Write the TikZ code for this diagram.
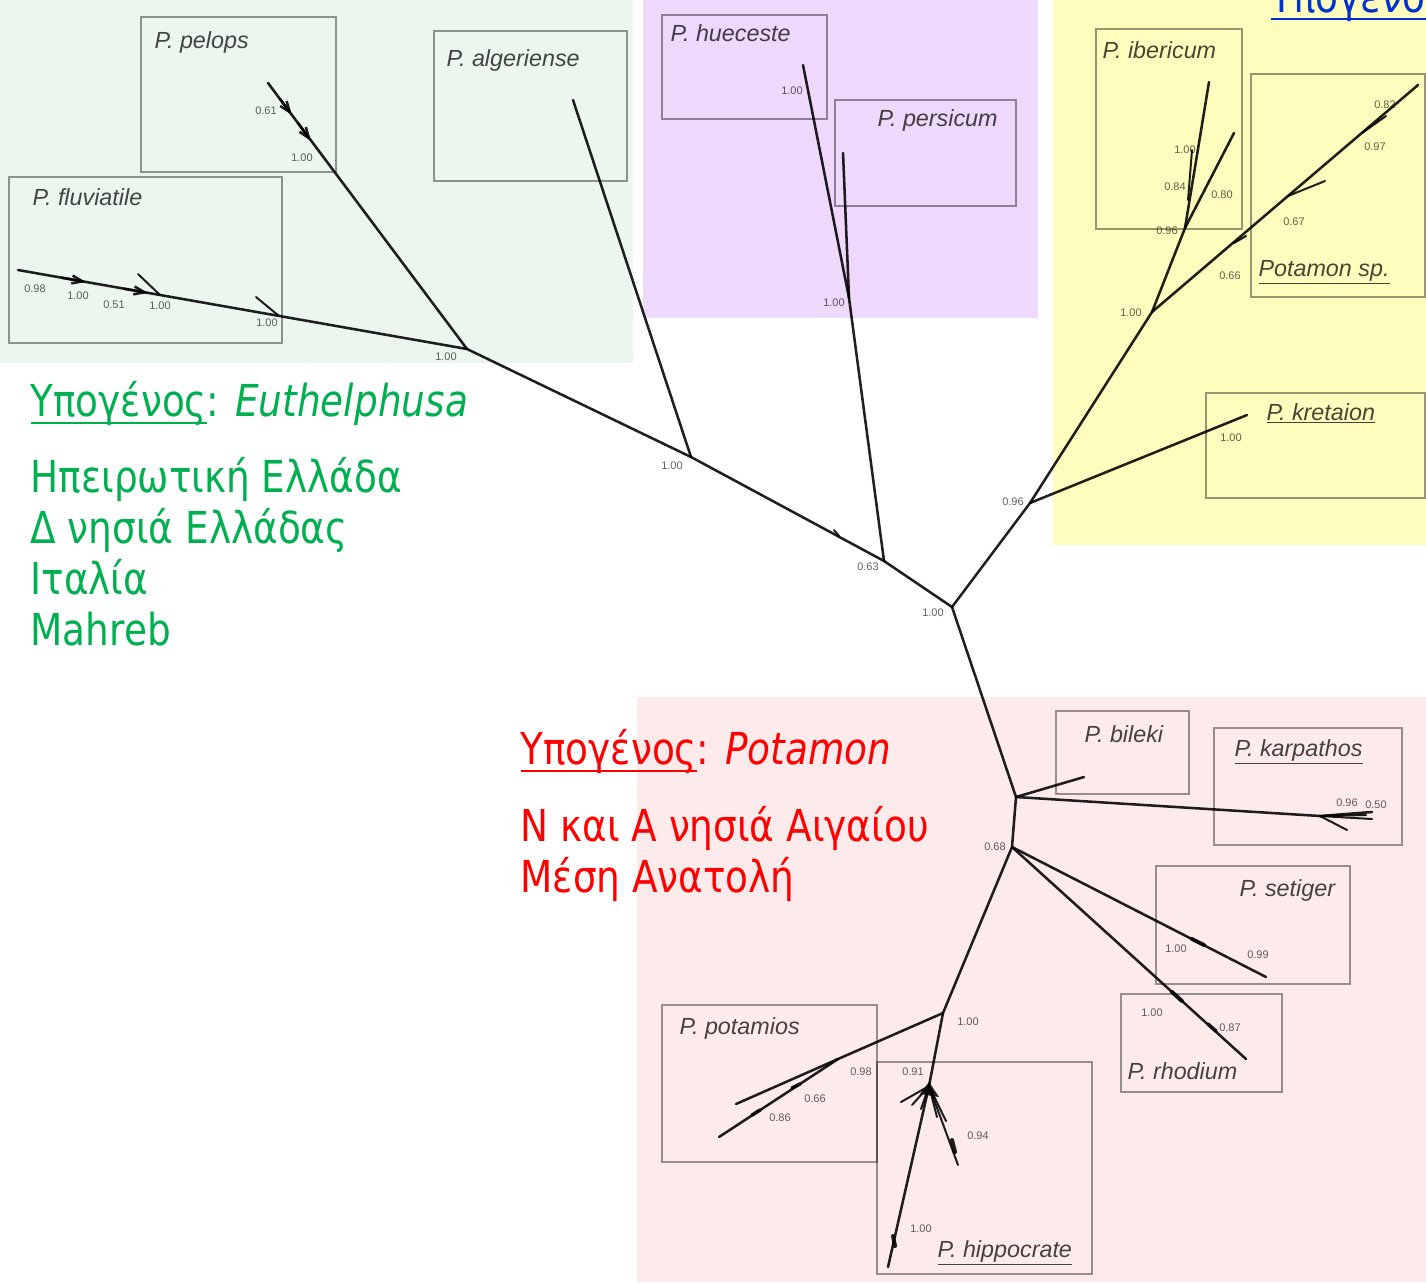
\documentclass[tikz,border=0pt]{standalone}
\usepackage{fontspec}
\setmainfont{Liberation Sans}
\newfontfamily\greekfont[FakeStretch=0.85]{DejaVu Sans}
\usetikzlibrary{arrows.meta}

\definecolor{greenbg}{RGB}{234,246,238}
\definecolor{purplebg}{RGB}{238,216,252}
\definecolor{yellowbg}{RGB}{255,253,190}
\definecolor{pinkbg}{RGB}{253,235,235}
\definecolor{greentxt}{RGB}{0,176,80}
\definecolor{redtxt}{RGB}{255,0,0}
\definecolor{bluetxt}{RGB}{0,51,204}

% thick underline for the subgenus headings
\newcommand{\headline}[1]{{\setbox0\hbox{#1}\rlap{\rule[-0.18em]{\wd0}{0.055em}}\box0}}

\tikzset{every picture/.style={line width=0.75pt}}
\tikzset{
  branch/.style={draw=black, draw opacity=0.88, line width=1.9pt, line cap=round, line join=round},
  barb/.style={branch, -{Straight Barb[length=8pt,width=6pt]}},
  stub/.style={branch, line width=1.5pt},
  spbox/.style={draw=black, draw opacity=0.4, line width=1.1pt},
  spname/.style={anchor=west, inner sep=0.75pt, text=black, text opacity=0.72, font=\fontsize{17.5}{20}\selectfont\itshape},
  supp/.style={inner sep=0.5pt, text=black, text opacity=0.62, font=\fontsize{8.25}{9}\selectfont},
  bigtxt/.style={anchor=base west, inner sep=0pt, font=\greekfont\fontsize{33}{38}\selectfont}
}

\begin{document}
\begin{tikzpicture}[x=0.75pt,y=0.75pt,yscale=-1,xscale=1]
	\useasboundingbox (0,0) rectangle (1426,1282);
	\clip (0,0) rectangle (1426,1282);

	%Shape: Rectangle (coloured areas)
	\fill[greenbg] (0,0) rectangle (633,363);
	\fill[purplebg] (643,0) rectangle (1038,318);
	\fill[yellowbg] (1053,0) rectangle (1426,545);
	\fill[pinkbg] (637,697) rectangle (1426,1282);

	%Shape: Rectangle (species boxes)
	\draw[spbox] (141,17) rectangle (336,172);
	\draw[spbox] (434,31) rectangle (627,181);
	\draw[spbox] (9,177) rectangle (282,343);
	\draw[spbox] (662,15) rectangle (827,119);
	\draw[spbox] (835,100) rectangle (1016,206);
	\draw[spbox] (1096,29) rectangle (1242,229);
	\draw[spbox] (1251,74) rectangle (1425,297);
	\draw[spbox] (1206,393) rectangle (1425,498);
	\draw[spbox] (1056,711) rectangle (1189,794);
	\draw[spbox] (1214,728) rectangle (1402,845);
	\draw[spbox] (1156,866) rectangle (1350,984);
	\draw[spbox] (1121,994) rectangle (1282,1092);
	\draw[spbox] (662,1005) rectangle (877,1162);
	\draw[spbox] (877,1062) rectangle (1092,1274);

	% Tree nodes and tips
	\coordinate (root) at (952,607);
	\coordinate (n63) at (884,561);
	\coordinate (n100b) at (691,457);
	\coordinate (n100a) at (467,349);
	\coordinate (tPel) at (268,83);
	\coordinate (tFlu) at (18,270);
	\coordinate (tAlg) at (573,100);
	\coordinate (nHue) at (849,298);
	\coordinate (tHue) at (803,65);
	\coordinate (tPer) at (843,153);
	\coordinate (n96) at (1030,503);
	\coordinate (tKre) at (1247,415);
	\coordinate (n100y) at (1152,312);
	\coordinate (nIbe) at (1185,228);
	\coordinate (tIbeA) at (1209,82);
	\coordinate (tIbeB) at (1234,133);
	\coordinate (tPsp) at (1418,85);
	\coordinate (nBil) at (1016,797);
	\coordinate (n68) at (1012,847);
	\coordinate (tBil) at (1084,777);
	\coordinate (nKar) at (1320,816);
	\coordinate (tKar) at (1372,812);
	\coordinate (tSet) at (1266,977);
	\coordinate (tRho) at (1246,1059);
	\coordinate (n100p) at (943,1013);
	\coordinate (nPot) at (838,1059);
	\coordinate (tPotA) at (736,1104);
	\coordinate (tPotB) at (719,1137);
	\coordinate (nHip) at (929,1086);
	\coordinate (tHip) at (888,1267);

	%Straight Lines (backbone)
	\draw[branch] (tFlu) -- (n100a) -- (n100b) -- (n63) -- (root) -- (nBil) -- (n68) -- (n100p) -- (nHip) -- (tHip);
	%Straight Lines (Euthelphusa)
	\draw[branch] (tPel) -- (n100a);
	\draw[branch] (tAlg) -- (n100b);
	\draw[branch] (tHue) -- (nHue) -- (n63);
	\draw[branch] (tPer) -- (nHue);
	\draw[barb] (280,99) -- (292,115);
	\draw[barb] (298,123) -- (311,141);
	\draw[barb] (62,277.7) -- (86,282);
	\draw[barb] (124,288.7) -- (148,292.9);
	\draw[stub] (138,274) -- (160,295);
	\draw[stub] (256,297) -- (279,316);
	\draw[stub] (834,530) -- (839,536);
	%Straight Lines (yellow group)
	\draw[branch] (root) -- (n96) -- (n100y) -- (nIbe) -- (tIbeA);
	\draw[branch] (nIbe) -- (tIbeB);
	\draw[stub] (1192,150) -- (1188,200);
	\draw[branch] (n100y) -- (tPsp);
	\draw[stub] (1288,196) -- (1325,181);
	\draw[stub] (1362,133) -- (1386,116);
	\draw[stub] (1234,243) -- (1246,236);
	\draw[branch] (n96) -- (tKre);
	%Straight Lines (Potamon)
	\draw[branch] (nBil) -- (tBil);
	\draw[branch] (nBil) -- (nKar) -- (tKar);
	\draw[stub] (nKar) -- (1372,819);
	\draw[stub] (nKar) -- (1366,815);
	\draw[stub] (nKar) -- (1347,830);
	\draw[branch] (n68) -- (tSet);
	\draw[stub, line width=3pt] (1192,939) -- (1204,945);
	\draw[branch] (n68) -- (tRho);
	\draw[stub, line width=3pt] (1172,992) -- (1182,1001);
	\draw[stub, line width=2.6pt] (1208,1024) -- (1216,1031);
	\draw[branch] (n100p) -- (nPot) -- (tPotA);
	\draw[branch] (nPot) -- (tPotB);
	\draw[stub, line width=2.6pt] (792,1088) -- (800,1084);
	\draw[stub, line width=2.6pt] (752,1115) -- (760,1110);
	\foreach \fx/\fy in {901/1102, 912/1105, 921/1109, 937/1117, 946/1121, 958/1165}
		\draw[stub] (nHip) -- (\fx,\fy);
	\fill[black, opacity=0.85] (920,1094) -- (929,1082) -- (939,1097) -- cycle;
	\draw[stub, line width=3pt] (952,1140) -- (955,1152);
	\draw[stub, line width=3pt] (893,1236) -- (895,1246);

	% Text Node (support values)
	\node[supp] (s100a) at (446,357) {1.00};
	\node[supp] (s100b) at (672,466) {1.00};
	\node[supp] (s63) at (868,567) {0.63};
	\node[supp] (sRoot) at (933,613) {1.00};
	\node[supp] (sPelA) at (266,111) {0.61};
	\node[supp] (sPelB) at (302,158) {1.00};
	\node[supp] (sFluA) at (35,289) {0.98};
	\node[supp] (sFluB) at (78,296) {1.00};
	\node[supp] (sFluC) at (114,305) {0.51};
	\node[supp] (sFluD) at (160,306) {1.00};
	\node[supp] (sFluE) at (267,323) {1.00};
	\node[supp] (sHue) at (792,91) {1.00};
	\node[supp] (sHuePer) at (834,303) {1.00};
	\node[supp] (s96) at (1013,502) {0.96};
	\node[supp] (sKre) at (1231,438) {1.00};
	\node[supp] (s100y) at (1131,313) {1.00};
	\node[supp] (sIbe) at (1167,231) {0.96};
	\node[supp] (sIbeA) at (1185,150) {1.00};
	\node[supp] (sIbeB) at (1175,187) {0.84};
	\node[supp] (sIbeC) at (1222,195) {0.80};
	\node[supp] (sPspA) at (1230,276) {0.66};
	\node[supp] (sPspB) at (1294,222) {0.67};
	\node[supp] (sPspC) at (1375,147) {0.97};
	\node[supp] (sPspD) at (1385,105) {0.82};
	\node[supp] (s68) at (995,847) {0.68};
	\node[supp] (sKarA) at (1347,803) {0.96};
	\node[supp] (sKarB) at (1376,805) {0.50};
	\node[supp] (sSetA) at (1176,949) {1.00};
	\node[supp] (sSetB) at (1258,955) {0.99};
	\node[supp] (sRhoA) at (1152,1013) {1.00};
	\node[supp] (sRhoB) at (1230,1028) {0.87};
	\node[supp] (s100p) at (968,1022) {1.00};
	\node[supp] (sPotA) at (861,1072) {0.98};
	\node[supp] (sPotB) at (815,1099) {0.66};
	\node[supp] (sPotC) at (780,1118) {0.86};
	\node[supp] (sHipA) at (913,1072) {0.91};
	\node[supp] (sHipB) at (978,1136) {0.94};
	\node[supp] (sHipC) at (921,1229) {1.00};

	% Text Node (species)
	\node[spname] (pelops) at (153,42) {P. pelops};
	\node[spname] (algeriense) at (445,60) {P. algeriense};
	\node[spname] (fluviatile) at (31,197) {P. fluviatile};
	\node[spname] (hueceste) at (669,33) {P. hueceste};
	\node[spname] (persicum) at (876,120) {P. persicum};
	\node[spname] (ibericum) at (1101,50) {P. ibericum};
	\node[spname] (potamonsp) at (1257,272) {\underline{Potamon sp.}};
	\node[spname] (kretaion) at (1265,413) {\underline{P. kretaion}};
	\node[spname] (bileki) at (1083,734) {P. bileki};
	\node[spname] (karpathos) at (1233,752) {\underline{P. karpathos}};
	\node[spname] (setiger) at (1238,890) {P. setiger};
	\node[spname] (rhodium) at (1126,1071) {P. rhodium};
	\node[spname] (potamios) at (678,1028) {P. potamios};
	\node[spname] (hippocrate) at (936,1253) {\underline{P. hippocrate}};

	% Text Node (subgenera)
	\node[bigtxt, text=greentxt] (euthHead) at (30,416) {\headline{Υπογένος}: \textit{Euthelphusa}};
	\node[bigtxt, text=greentxt] (euthA) at (30,492) {Ηπειρωτική Ελλάδα};
	\node[bigtxt, text=greentxt] (euthB) at (30,543) {Δ νησιά Ελλάδας};
	\node[bigtxt, text=greentxt] (euthC) at (30,594) {Ιταλία};
	\node[bigtxt, text=greentxt] (euthD) at (30,645) {Mahreb};
	\node[bigtxt, text=redtxt] (potHead) at (520,764) {\headline{Υπογένος}: \textit{Potamon}};
	\node[bigtxt, text=redtxt] (potA) at (520,841) {Ν και Α νησιά Αιγαίου};
	\node[bigtxt, text=redtxt] (potB) at (520,892) {Μέση Ανατολή};
	\node[bigtxt, text=bluetxt] (thirdHead) at (1270,12) {\headline{Υπογένος}};

\end{tikzpicture}
\end{document}
